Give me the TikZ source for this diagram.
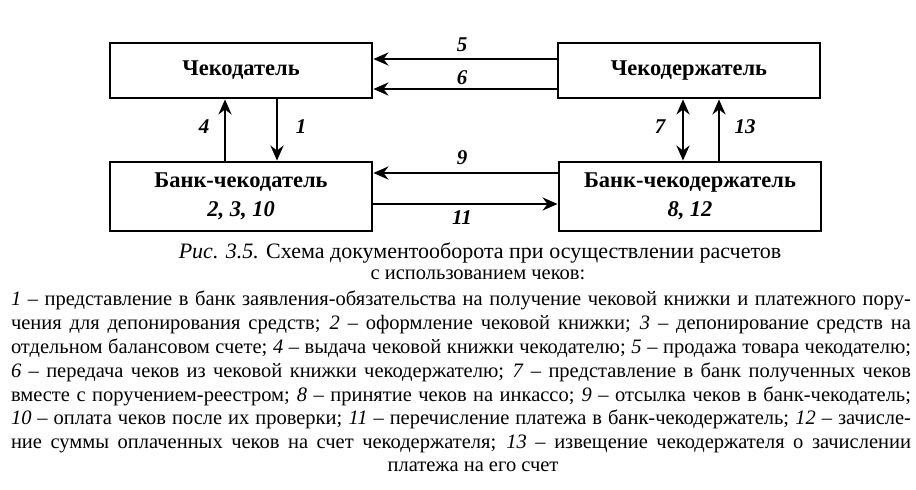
\documentclass[tikz,border=0pt]{standalone}
\usepackage{fontspec}
\setmainfont{Liberation Serif}
\usetikzlibrary{arrows.meta}
\begin{document}
\begin{tikzpicture}[x=1pt,y=-1pt,
  box/.style={draw,line width=2.8pt,minimum width=262pt,inner sep=0pt,align=center,
    font=\fontsize{22.5}{27}\selectfont\bfseries},
  arr/.style={line width=2.5pt,-{Stealth[length=15pt,width=13pt]}},
  darr/.style={line width=2.5pt,{Stealth[length=15pt,width=13pt]}-{Stealth[length=15pt,width=13pt]}},
  num/.style={font=\fontsize{21}{22}\selectfont\bfseries\itshape,inner sep=0pt},
  bodyline/.style={inner sep=0pt,anchor=base,font=\fontsize{20.5}{23}\selectfont},
  capline/.style={inner sep=0pt,anchor=base},
]
\useasboundingbox (0,0) rectangle (916,490);
\fill[white] (0,0) rectangle (916,490);

% boxes
\node[box,minimum height=55pt] (chd) at (241,70.5) {Чекодатель};
\node[box,minimum height=55pt] (chr) at (689,70.5) {Чекодержатель};
\node[box,minimum height=69pt] (bch) at (241,196.5) {Банк-чекодатель\\[2pt]\itshape 2, 3, 10};
\node[box,minimum height=69pt] (bcr) at (690,196.5) {Банк-чекодержатель\\[2pt]\itshape 8, 12};

% guide coordinates
\coordinate (y5) at (0,59);
\coordinate (y6) at (0,89);
\coordinate (y9) at (0,173);
\coordinate (y11) at (0,204);
\coordinate (x4) at (225,0);
\coordinate (x1) at (277,0);
\coordinate (x7) at (683,0);
\coordinate (x13) at (719,0);

% connectors
\draw[arr] (chr.west |- y5) -- (chd.east |- y5);
\draw[arr] (chr.west |- y6) -- (chd.east |- y6);
\draw[arr] (bcr.west |- y9) -- (bch.east |- y9);
\draw[arr] (bch.east |- y11) -- (bcr.west |- y11);
\draw[arr] (bch.north -| x4) -- (chd.south -| x4);
\draw[arr] (chd.south -| x1) -- (bch.north -| x1);
\draw[darr] (bcr.north -| x7) -- (chr.south -| x7);
\draw[arr] (bcr.north -| x13) -- (chr.south -| x13);

% connector labels
\node[num] (n5) at (462,45) {5};
\node[num] (n6) at (462,78) {6};
\node[num] (n9) at (462,158) {9};
\node[num] (n11) at (462,218) {11};
\node[num] (n4) at (204,127) {4};
\node[num] (n1) at (301,127) {1};
\node[num] (n7) at (660,127) {7};
\node[num] (n13) at (745,127) {13};

% caption
\node[capline,font=\fontsize{22}{24}\selectfont] (c1) at (480,258) {\textit{Рис. 3.5.} Схема документооборота при осуществлении расчетов};
\node[capline,font=\fontsize{20.5}{24}\selectfont] (c2) at (478,279) {с использованием чеков:};

% legend lines
\node[bodyline] (l1) at (461,305) {\makebox[900pt][s]{\textit{1} – представление в банк заявления-обязательства на получение чековой книжки и платежного пору-}};
\node[bodyline] (l2) at (461,329) {\makebox[900pt][s]{чения для депонирования средств; \textit{2} – оформление чековой книжки; \textit{3} – депонирование средств на}};
\node[bodyline] (l3) at (461,353) {\makebox[900pt][s]{отдельном балансовом счете; \textit{4} – выдача чековой книжки чекодателю; \textit{5} – продажа товара чекодателю;}};
\node[bodyline] (l4) at (461,377) {\makebox[900pt][s]{\textit{6} – передача чеков из чековой книжки чекодержателю; \textit{7} – представление в банк полученных чеков}};
\node[bodyline] (l5) at (461,401) {\makebox[900pt][s]{вместе с поручением-реестром; \textit{8} – принятие чеков на инкассо; \textit{9} – отсылка чеков в банк-чекодатель;}};
\node[bodyline] (l6) at (461,424) {\makebox[900pt][s]{\textit{10} – оплата чеков после их проверки; \textit{11} – перечисление платежа в банк-чекодержатель; \textit{12} – зачисле-}};
\node[bodyline] (l7) at (461,448) {\makebox[900pt][s]{ние суммы оплаченных чеков на счет чекодержателя; \textit{13} – извещение чекодержателя о зачислении}};
\node[bodyline] (l8) at (473,471) {платежа на его счет};
\end{tikzpicture}
\end{document}
